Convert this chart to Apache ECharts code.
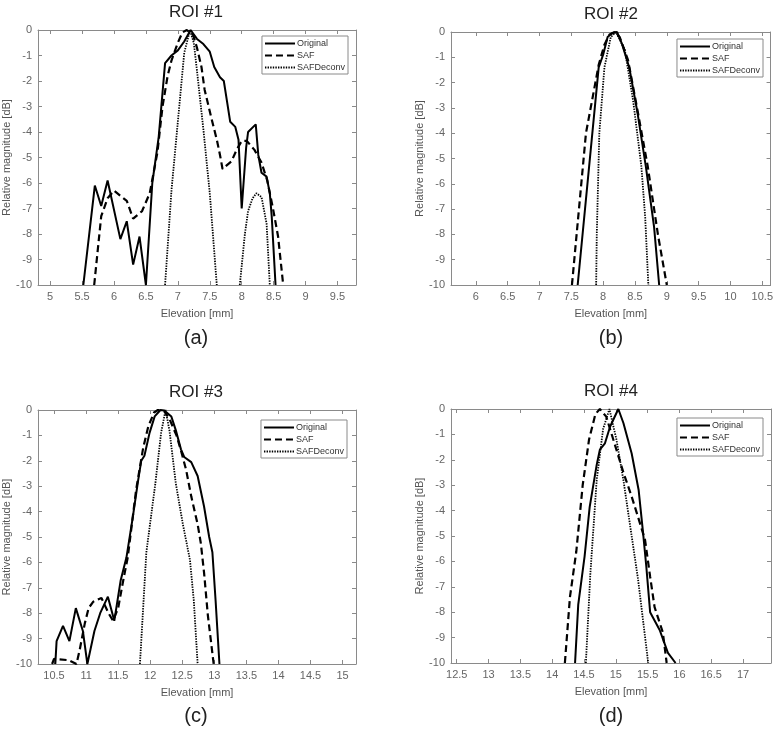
<!DOCTYPE html>
<html><head><meta charset="utf-8">
<script src="https://cdn.jsdelivr.net/npm/echarts@6/dist/echarts.min.js"></script>
<style>html,body{margin:0;padding:0;background:#fff}#c{width:776px;height:732px}</style>
</head><body><div id="c"></div>
<script>
// ---------- data ----------
const seriesNames = ['Original', 'SAF', 'SAFDeconv'];
const roiTitles = ['ROI #1', 'ROI #2', 'ROI #3', 'ROI #4'];
const panelLabels = ['(a)', '(b)', '(c)', '(d)'];
const xAxisName = 'Elevation [mm]';
const yAxisName = 'Relative magnitude [dB]';

const xRange1 = [4.81, 9.79];
const xRange2 = [5.61, 10.63];
const xRange3 = [10.25, 15.21];
const xRange4 = [12.41, 17.44];
const xTicks1 = [5, 5.5, 6, 6.5, 7, 7.5, 8, 8.5, 9, 9.5];
const xTicks2 = [6, 6.5, 7, 7.5, 8, 8.5, 9, 9.5, 10, 10.5];
const xTicks3 = [10.5, 11, 11.5, 12, 12.5, 13, 13.5, 14, 14.5, 15];
const xTicks4 = [12.5, 13, 13.5, 14, 14.5, 15, 15.5, 16, 16.5, 17];
const yRange = [-10, 0];

const roi1Original = [[5.52,-10],[5.70,-6.1],[5.80,-6.9],[5.90,-5.9],[6.10,-8.2],[6.20,-7.5],[6.30,-9.2],[6.40,-8.1],[6.50,-10],[6.60,-6.0],[6.70,-4.2],[6.80,-1.3],[6.90,-1.0],[7.00,-0.8],[7.10,-0.45],[7.20,0],[7.30,-0.35],[7.40,-0.55],[7.50,-0.85],[7.57,-1.45],[7.66,-1.85],[7.72,-2.0],[7.77,-2.8],[7.82,-3.6],[7.90,-3.8],[7.95,-4.3],[8.00,-7.0],[8.07,-4.6],[8.10,-4.0],[8.22,-3.7],[8.26,-4.9],[8.31,-5.6],[8.39,-5.75],[8.44,-6.4],[8.47,-7.3],[8.53,-10]];
const roi1SAF = [[5.69,-10],[5.80,-7.3],[5.90,-6.6],[6.00,-6.3],[6.20,-6.7],[6.30,-7.4],[6.44,-7.1],[6.56,-6.4],[6.68,-4.8],[6.76,-3.0],[6.84,-1.8],[6.90,-1.2],[7.00,-0.5],[7.07,-0.1],[7.14,0],[7.24,-0.2],[7.30,-0.7],[7.37,-1.45],[7.42,-2.35],[7.52,-3.4],[7.61,-4.3],[7.66,-4.9],[7.70,-5.45],[7.84,-5.15],[7.92,-4.7],[8.00,-4.35],[8.08,-4.35],[8.20,-4.7],[8.31,-5.2],[8.40,-5.9],[8.49,-7.0],[8.57,-8.1],[8.65,-10]];
const roi1SAFDeconv = [[6.80,-10],[6.90,-6.3],[7.00,-3.6],[7.10,-0.9],[7.19,0],[7.25,-0.5],[7.30,-1.6],[7.40,-3.9],[7.50,-6.4],[7.61,-10],[7.80,null],[7.97,-10],[8.05,-8.0],[8.10,-7.1],[8.17,-6.6],[8.23,-6.4],[8.31,-6.55],[8.36,-7.2],[8.39,-7.6],[8.44,-10]];

const roi2Original = [[7.60,-10],[7.93,-1.4],[8.00,-0.9],[8.07,-0.2],[8.14,-0.05],[8.22,0],[8.30,-0.5],[8.41,-1.4],[8.54,-3.2],[8.67,-5.3],[8.80,-7.7],[8.88,-10]];
const roi2SAF = [[7.51,-10],[7.73,-4.0],[7.93,-1.3],[8.02,-0.5],[8.10,-0.1],[8.18,0],[8.26,-0.2],[8.39,-1.1],[8.54,-3.1],[8.70,-5.3],[8.86,-8.0],[9.00,-10]];
const roi2SAFDeconv = [[7.89,-10],[7.90,-8.0],[7.94,-4.0],[8.02,-1.4],[8.12,-0.2],[8.20,0],[8.34,-0.7],[8.47,-2.7],[8.60,-5.3],[8.66,-7.3],[8.71,-10]];

const roi3Original = [[10.52,-10],[10.54,-9.1],[10.64,-8.5],[10.74,-9.1],[10.84,-7.8],[10.95,-8.7],[11.02,-10],[11.13,-8.7],[11.22,-8.0],[11.34,-7.35],[11.44,-8.3],[11.54,-6.7],[11.63,-5.8],[11.73,-4.2],[11.81,-2.8],[11.86,-2.0],[11.91,-1.8],[11.99,-0.9],[12.07,-0.25],[12.16,0],[12.22,-0.02],[12.33,-0.26],[12.40,-0.8],[12.48,-1.55],[12.53,-1.85],[12.64,-2.05],[12.74,-2.6],[12.84,-3.8],[12.92,-5.0],[12.97,-5.6],[13.02,-7.5],[13.08,-10]];
const roi3SAF = [[10.47,-10],[10.50,-9.8],[10.73,-9.85],[10.85,-10],[10.90,-9.45],[10.98,-8.4],[11.04,-7.8],[11.11,-7.55],[11.24,-7.4],[11.35,-8.0],[11.42,-8.3],[11.50,-7.8],[11.58,-6.7],[11.65,-5.8],[11.78,-3.15],[11.89,-1.5],[11.97,-0.65],[12.06,-0.1],[12.12,0],[12.22,-0.05],[12.30,-0.35],[12.41,-1.0],[12.48,-1.6],[12.56,-2.35],[12.64,-3.4],[12.74,-4.5],[12.79,-5.25],[12.84,-6.4],[12.90,-8.1],[12.99,-10]];
const roi3SAFDeconv = [[11.84,-10],[11.94,-5.6],[12.08,-2.9],[12.17,-0.9],[12.24,0],[12.30,-0.8],[12.40,-2.9],[12.51,-4.5],[12.62,-5.9],[12.68,-7.5],[12.74,-10]];

const roi4Original = [[14.36,-10],[14.41,-7.7],[14.51,-5.8],[14.59,-3.85],[14.70,-2.2],[14.75,-1.6],[14.83,-1.35],[14.91,-0.7],[15.04,0],[15.12,-0.55],[15.25,-1.75],[15.36,-3.2],[15.43,-4.9],[15.48,-6.2],[15.54,-8.0],[15.69,-8.7],[15.82,-9.6],[15.94,-10]];
const roi4SAF = [[14.20,-10],[14.28,-7.4],[14.38,-5.6],[14.48,-3.0],[14.58,-1.2],[14.68,-0.2],[14.75,0],[14.85,-0.3],[15.01,-1.6],[15.12,-2.5],[15.25,-3.45],[15.35,-4.25],[15.46,-5.15],[15.54,-6.6],[15.61,-7.8],[15.74,-8.8],[15.80,-10]];
const roi4SAFDeconv = [[14.53,-10],[14.60,-6.5],[14.70,-2.8],[14.80,-0.8],[14.90,0],[15.01,-1.2],[15.12,-2.8],[15.22,-4.5],[15.35,-6.7],[15.51,-10]];

// ---------- layout / style ----------
const FONT = '"Liberation Sans", Arial, Helvetica, sans-serif';
const grids = [
  {left: 36, top: 30, width: 320, height: 255},
  {left: 451, top: 32, width: 320, height: 253},
  {left: 36, top: 410, width: 320, height: 254},
  {left: 451, top: 409, width: 320, height: 254}
];
const legendPos = [
  {right: 428, top: 36}, {right: 13, top: 39}, {right: 429, top: 420}, {right: 13, top: 418}
];
const panels = [
  {xr: xRange1, ticks: xTicks1, data: [roi1Original, roi1SAF, roi1SAFDeconv]},
  {xr: xRange2, ticks: xTicks2, data: [roi2Original, roi2SAF, roi2SAFDeconv]},
  {xr: xRange3, ticks: xTicks3, data: [roi3Original, roi3SAF, roi3SAFDeconv]},
  {xr: xRange4, ticks: xTicks4, data: [roi4Original, roi4SAF, roi4SAFDeconv]}
];
const lineStyles = [
  {color: '#000', width: 2, type: 'solid'},
  {color: '#000', width: 2.2, type: [7, 4]},
  {color: '#000', width: 1.8, type: [1.4, 1.2]}
];
const axisColor = '#8a8a8a';
const labelColor = '#666';

const xAxes = [], yAxes = [], series = [], legends = [], graphics = [];
panels.forEach((p, i) => {
  const common = {
    type: 'value', gridIndex: i, min: p.xr[0], max: p.xr[1],
    axisLine: {show: true, onZero: false, lineStyle: {color: axisColor, width: 1}},
    axisTick: {show: true, inside: true, length: 4, customValues: p.ticks, lineStyle: {color: axisColor}},
    splitLine: {show: false}
  };
  xAxes.push(Object.assign({}, common, {
    position: 'bottom',
    name: xAxisName, nameLocation: 'middle', nameGap: 23,
    nameTextStyle: {color: '#555', fontSize: 11, fontFamily: FONT},
    axisLabel: {show: true, customValues: p.ticks, margin: 6, color: labelColor, fontSize: 11, fontFamily: FONT}
  }));
  xAxes.push(Object.assign({}, common, {position: 'top', axisLabel: {show: false}}));
  const ycommon = {
    type: 'value', gridIndex: i, min: yRange[0], max: yRange[1], interval: 1,
    axisLine: {show: true, onZero: false, lineStyle: {color: axisColor, width: 1}},
    axisTick: {show: true, inside: true, length: 4, lineStyle: {color: axisColor}},
    splitLine: {show: false}
  };
  yAxes.push(Object.assign({}, ycommon, {
    position: 'left',
    name: yAxisName, nameLocation: 'middle', nameGap: 26,
    nameTextStyle: {color: '#555', fontSize: 11, fontFamily: FONT},
    axisLabel: {show: true, margin: 6, color: labelColor, fontSize: 11, fontFamily: FONT}
  }));
  yAxes.push(Object.assign({}, ycommon, {position: 'right', axisLabel: {show: false}}));

  p.data.forEach((d, k) => {
    series.push({
      type: 'line', name: seriesNames[k], xAxisIndex: 2 * i, yAxisIndex: 2 * i,
      data: d, symbol: 'none', showSymbol: false, clip: true, connectNulls: false,
      lineStyle: lineStyles[k], itemStyle: {color: lineStyles[k].color},
      emphasis: {disabled: true}, z: 3 - k
    });
  });

  legends.push(Object.assign({
    orient: 'vertical', align: 'left', data: seriesNames.slice(),
    backgroundColor: '#fff', borderColor: '#8a8a8a', borderWidth: 1,
    padding: [3, 3, 2, 2], itemGap: 3, itemWidth: 30, itemHeight: 10,
    itemStyle: {opacity: 0},
    textStyle: {fontSize: 9, color: '#333', fontFamily: FONT, padding: [0, 0, 0, -3]},
    selectedMode: false
  }, legendPos[i]));

  const g = grids[i];
  const cx = g.left + g.width / 2;
  graphics.push({
    type: 'text', x: cx, y: g.top - 18,
    style: {text: roiTitles[i], font: '17px ' + FONT, fill: '#222', align: 'center', verticalAlign: 'middle', textAlign: 'center', textVerticalAlign: 'middle'}
  });
  graphics.push({
    type: 'text', x: cx, y: (i < 2 ? 338 : 716),
    style: {text: panelLabels[i], font: '20px ' + FONT, fill: '#222', align: 'center', verticalAlign: 'middle', textAlign: 'center', textVerticalAlign: 'middle'}
  });
});

const chart = echarts.init(document.getElementById('c'), null, {renderer: 'canvas'});
chart.setOption({
  animation: false,
  backgroundColor: '#fff',
  grid: grids,
  xAxis: xAxes,
  yAxis: yAxes,
  legend: legends,
  series: series,
  graphic: graphics
});
</script>
</body></html>
